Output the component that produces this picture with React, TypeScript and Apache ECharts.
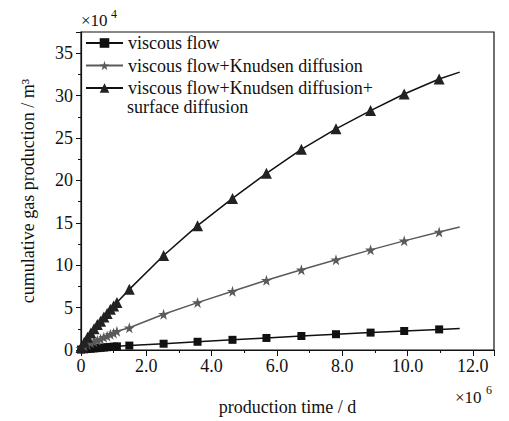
import React, { useEffect, useRef } from "react";
import * as echarts from "echarts";

// production time, units of 1e6 d
const timeValues = [0, 0.1, 0.2, 0.3, 0.4, 0.5, 0.6, 0.7, 0.8, 0.9, 1.0, 1.1, 1.48, 2.53, 3.57, 4.64, 5.68, 6.75, 7.81, 8.87, 9.9, 10.97];
const endTime = 11.6;
// cumulative gas production, units of 1e4 m3
const viscousFlow = [0.05, 0.08, 0.12, 0.15, 0.19, 0.22, 0.26, 0.29, 0.33, 0.36, 0.4, 0.43, 0.52, 0.74, 0.97, 1.2, 1.42, 1.65, 1.86, 2.05, 2.24, 2.43];
const viscousFlowEnd = 2.55;
const knudsen = [0.2, 0.45, 0.65, 0.85, 1.0, 1.15, 1.3, 1.5, 1.65, 1.85, 2.0, 2.2, 2.62, 4.22, 5.59, 6.92, 8.23, 9.47, 10.64, 11.81, 12.87, 13.92];
const knudsenEnd = 14.51;
const surface = [0.3, 0.9, 1.5, 2.0, 2.5, 3.0, 3.4, 3.9, 4.3, 4.8, 5.2, 5.6, 7.15, 11.14, 14.66, 17.87, 20.84, 23.66, 26.08, 28.23, 30.19, 31.95];
const surfaceEnd = 32.77;

const seriesNames = [
  "viscous flow",
  "viscous flow+Knudsen diffusion",
  "viscous flow+Knudsen diffusion+surface diffusion",
];
const legendLabels = [
  "viscous flow",
  "viscous flow+Knudsen diffusion",
  "viscous flow+Knudsen diffusion+",
];

const FONT = '"Liberation Serif", "Times New Roman", serif';
const STAR = "path://M50,0 L61,35 L98,35 L68,57 L79,91 L50,70 L21,91 L32,57 L2,35 L39,35 Z";

function build(ys: number[], end: number) {
  const d: any[] = timeValues.map((t, i) => [t, ys[i]]);
  d.push({ value: [endTime, end], symbol: "none" });
  return d;
}

export default function App() {
  const ref = useRef<HTMLDivElement>(null);
  useEffect(() => {
    const chart = echarts.init(ref.current!, null, { renderer: "svg" });
    const textColor = "#111";
    chart.setOption({
      animation: false,
      backgroundColor: "#fff",
      grid: {
        left: 81,
        right: 15,
        top: 32,
        bottom: 69,
        show: true,
        borderColor: "#111",
        borderWidth: 1.2,
      },
      legend: {
        orient: "vertical",
        left: 85,
        top: 34,
        padding: 0,
        itemWidth: 37,
        itemHeight: 12,
        itemGap: 4.5,
        data: seriesNames,
        formatter: (n: string) => legendLabels[seriesNames.indexOf(n)],
        textStyle: { fontFamily: FONT, fontSize: 18, color: textColor },
      },
      xAxis: {
        type: "value",
        min: 0,
        max: 12.65,
        interval: 2,
        name: "production time / d",
        nameLocation: "middle",
        nameGap: 48,
        nameTextStyle: { fontFamily: FONT, fontSize: 18, color: textColor },
        axisLine: { lineStyle: { color: "#111", width: 1.2 } },
        axisTick: { inside: false, length: 6, lineStyle: { color: "#111" } },
        minorTick: { show: true, splitNumber: 2, length: 3, lineStyle: { color: "#111" } },
        splitLine: { show: false },
        axisLabel: {
          fontFamily: FONT,
          fontSize: 18,
          color: textColor,
          margin: 7,
          showMaxLabel: false,
          formatter: (v: number) => (v === 0 ? "0" : v.toFixed(1)),
        },
      },
      yAxis: {
        type: "value",
        min: 0,
        max: 37.5,
        interval: 5,
        name: "cumulative gas production / m³",
        nameLocation: "middle",
        nameGap: 44,
        nameTextStyle: { fontFamily: FONT, fontSize: 18, color: textColor },
        axisLine: { show: true, lineStyle: { color: "#111", width: 1.2 } },
        axisTick: { show: true, inside: false, length: 5, lineStyle: { color: "#111" } },
        minorTick: { show: true, splitNumber: 2, length: 3, lineStyle: { color: "#111" } },
        splitLine: { show: false },
        axisLabel: { fontFamily: FONT, fontSize: 18, color: textColor, margin: 8, showMaxLabel: false },
      },
      graphic: [
        { type: "text", x: 81, y: 12, style: { text: "×10", font: `17px ${FONT}`, fill: textColor } },
        { type: "text", x: 111, y: 8, style: { text: "4", font: `12px ${FONT}`, fill: textColor } },
        { type: "text", x: 455, y: 389, style: { text: "×10", font: `17px ${FONT}`, fill: textColor } },
        { type: "text", x: 486, y: 384, style: { text: "6", font: `12px ${FONT}`, fill: textColor } },
        { type: "text", x: 127, y: 98, style: { text: "surface diffusion", font: `18px ${FONT}`, fill: textColor } },
      ],
      series: [
        {
          name: seriesNames[0],
          type: "line",
          data: build(viscousFlow, viscousFlowEnd),
          symbol: "rect",
          symbolSize: 8,
          showAllSymbol: true,
          lineStyle: { color: "#111", width: 1.5 },
          itemStyle: { color: "#111" },
        },
        {
          name: seriesNames[1],
          type: "line",
          data: build(knudsen, knudsenEnd),
          symbol: STAR,
          symbolSize: 11,
          showAllSymbol: true,
          lineStyle: { color: "#5a5a5a", width: 1.5 },
          itemStyle: { color: "#5a5a5a" },
        },
        {
          name: seriesNames[2],
          type: "line",
          data: build(surface, surfaceEnd),
          symbol: "triangle",
          symbolSize: 11,
          showAllSymbol: true,
          lineStyle: { color: "#111", width: 1.5 },
          itemStyle: { color: "#222" },
        },
      ],
    });
    return () => chart.dispose();
  }, []);
  return <div ref={ref} style={{ width: 509, height: 421, position: "absolute", left: 0, top: 0 }} />;
}
